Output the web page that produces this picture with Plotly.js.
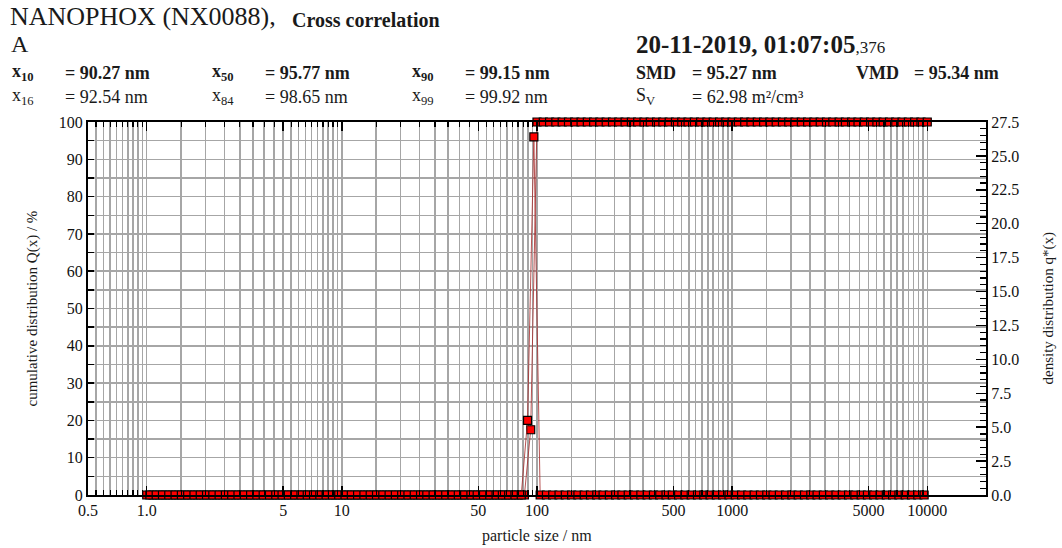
<!DOCTYPE html>
<html><head><meta charset="utf-8">
<script src="https://cdn.plot.ly/plotly-3.0.1.min.js"></script>
<style>body{margin:0;background:#fff}#chart{width:1062px;height:548px}</style>
</head><body><div id="chart"></div>
<script>
// ---- data ----
const sizeClasses = [
  1.000,1.077,1.160,1.249,1.346,1.450,1.561,1.682,1.811,1.951,2.101,2.263,2.438,2.626,2.828,3.046,3.281,3.535,3.807,4.101,4.417,4.758,5.125,5.520,5.946,6.404,6.898,7.430,8.003,8.620,9.285,
  10.00,10.77,11.60,12.49,13.46,14.50,15.61,16.82,18.11,19.51,21.01,22.63,24.38,26.26,28.28,30.46,32.81,35.35,38.07,41.01,44.17,47.58,51.25,55.20,59.46,64.04,68.98,74.30,80.03,86.20,92.85,
  100.0,107.7,116.0,124.9,134.6,145.0,156.1,168.2,181.1,195.1,210.1,226.3,243.8,262.6,282.8,304.6,328.1,353.5,380.7,410.1,441.7,475.8,512.5,552.0,594.6,640.4,689.8,743.0,800.3,862.0,928.5,
  1000,1077,1160,1249,1346,1450,1561,1682,1811,1951,2101,2263,2438,2626,2828,3046,3281,3535,3807,4101,4417,4758,5125,5520,5946,6404,6898,7430,8003,8620,9285,10000
];
const cumulativeQ = [
  0,0,0,0,0,0,0,0,0,0,
  0,0,0,0,0,0,0,0,0,0,
  0,0,0,0,0,0,0,0,0,0,
  0,0,0,0,0,0,0,0,0,0,
  0,0,0,0,0,0,0,0,0,0,
  0,0,0,0,0,0,0,0,0,0,
  0,
  17.5,
  100,100,100,100,100,100,100,100,100,100,
  100,100,100,100,100,100,100,100,100,100,
  100,100,100,100,100,100,100,100,100,100,
  100,100,100,100,100,100,100,100,100,100,
  100,100,100,100,100,100,100,100,100,100,
  100,100,100,100,100,100,100,100,100,100,
  100,100,100
];
const densityX = [
  1.038,1.118,1.204,1.297,1.397,1.505,1.621,1.746,1.880,2.025,2.181,2.349,2.530,2.725,2.935,3.162,3.406,3.668,3.951,4.256,4.584,4.937,5.318,5.728,6.170,6.645,7.158,7.710,8.304,8.944,9.636,
  10.38,11.18,12.04,12.97,13.97,15.05,16.21,17.46,18.80,20.25,21.81,23.49,25.30,27.25,29.35,31.62,34.06,36.68,39.51,42.56,45.84,49.37,53.18,57.28,61.70,66.45,71.58,77.10,83.04,89.44,96.36,
  103.8,111.8,120.4,129.7,139.7,150.5,162.1,174.6,188.0,202.5,218.1,234.9,253.0,272.5,293.5,316.2,340.6,366.8,395.1,425.6,458.4,493.7,531.8,572.8,617.0,664.5,715.8,771.0,830.4,894.4,963.6,
  1038,1118,1204,1297,1397,1505,1621,1746,1880,2025,2181,2349,2530,2725,2935,3162,3406,3668,3951,4256,4584,4937,5318,5728,6170,6645,7158,7710,8304,8944,9636
];
const densityQ = [
  0,0,0,0,0,0,0,0,0,0,
  0,0,0,0,0,0,0,0,0,0,
  0,0,0,0,0,0,0,0,0,0,
  0,0,0,0,0,0,0,0,0,0,
  0,0,0,0,0,0,0,0,0,0,
  0,0,0,0,0,0,0,0,0,0,
  5.5,26.4,
  0,0,0,0,0,0,0,0,0,0,
  0,0,0,0,0,0,0,0,0,0,
  0,0,0,0,0,0,0,0,0,0,
  0,0,0,0,0,0,0,0,0,0,
  0,0,0,0,0,0,0,0,0,0,
  0,0,0,0,0,0,0,0,0,0,
  0,0
];
const xTickVals = [0.5,1,5,10,50,100,500,1000,5000,10000];
const xTickText = ["0.5","1.0","5","10","50","100","500","1000","5000","10000"];
const yTickVals = [0,10,20,30,40,50,60,70,80,90,100];
const y2TickVals = [0,2.5,5,7.5,10,12.5,15,17.5,20,22.5,25,27.5];
const y2TickText = ["0.0","2.5","5.0","7.5","10.0","12.5","15.0","17.5","20.0","22.5","25.0","27.5"];
const statLabelsTop = ["x<sub>10</sub>","x<sub>50</sub>","x<sub>90</sub>","SMD","VMD"];
const statValuesTop = ["= 90.27 nm","= 95.77 nm","= 99.15 nm","= 95.27 nm","= 95.34 nm"];
const statLabelsBottom = ["x<sub>16</sub>","x<sub>84</sub>","x<sub>99</sub>","S<sub>V</sub>"];
const statValuesBottom = ["= 92.54 nm","= 98.65 nm","= 99.92 nm","= 62.98 m²/cm³"];

// ---- layout helpers ----
const L=88,R=986,T=122,B=495;
const px=x=>(x-L)/(R-L), py=y=>(B-y)/(B-T);
const serif='Liberation Serif, Times New Roman, serif';
function ann(text,x,y,size,opts){
  return Object.assign({text:text,xref:'paper',yref:'paper',x:px(x),y:py(y),xanchor:'left',yanchor:'middle',
    showarrow:false,font:{family:serif,size:size,color:'#1a1a1a'}},opts||{});
}
// grid line positions (axis styling)
const gridVals=[];
for(let m=0.5;m<0.999;m+=0.05) gridVals.push(Math.round(m*1000)/1000);
[1,10,100,1000].forEach(d=>{for(let m=1;m<9.99;m+=0.5) gridVals.push(Math.round(m*d*1000)/1000);});
gridVals.push(10000);

const gridC='#a6a6a6';
const mk={symbol:'square',size:8,color:'#ff0000',line:{color:'#000',width:1.2}};
const traces=[
  {x:densityX,y:densityQ,yaxis:'y2',type:'scatter',mode:'lines+markers',cliponaxis:false,
   line:{color:'rgba(165,40,40,0.8)',width:1},marker:mk,showlegend:false},
  {x:sizeClasses,y:cumulativeQ,type:'scatter',mode:'lines+markers',cliponaxis:false,
   line:{color:'rgba(165,40,40,0.8)',width:1},marker:mk,showlegend:false}
];
const tf={family:serif,size:16,color:'#111'};
const annotations=[
  ann('NANOPHOX (NX0088),',8,16,26),
  ann('<b>Cross correlation</b>',290,20,20),
  ann('A',9,44,24),
  ann('<b>20-11-2019, 01:07:05</b><span style="font-size:17px">,376</span>',634,44,25),
  ann('density distribution q*(x)',1048,(T+B)/2,15,{xanchor:'center',textangle:-90}),
  ann('cumulative distribution Q(x) / %',32,(T+B)/2,15,{xanchor:'center',textangle:-90}),
  ann('particle size / nm',(L+R)/2,536,16,{xanchor:'center'})
];
const topX=[10,210,410,634,854], valX=[63,263,463,690,912];
statLabelsTop.forEach((s,i)=>{annotations.push(ann('<b>'+s+'</b>',topX[i],73,18));annotations.push(ann('<b>'+statValuesTop[i]+'</b>',valX[i],73,18));});
statLabelsBottom.forEach((s,i)=>{annotations.push(ann(s,topX[i],97,18));annotations.push(ann(statValuesBottom[i],valX[i],97,18));});

const layout={
  width:1062,height:548,margin:{l:L,r:1062-R,t:T,b:548-B,pad:0},
  paper_bgcolor:'#fff',plot_bgcolor:'#fff',showlegend:false,
  font:{family:serif},
  xaxis:{type:'log',range:[Math.log10(0.5),Math.log10(20000)],autorange:false,
    tickmode:'array',tickvals:xTickVals,ticktext:xTickText,ticks:'inside',ticklen:9,tickwidth:1.5,tickcolor:'#000',
    showgrid:true,gridcolor:gridC,gridwidth:1.5,
    minor:{tickmode:'array',tickvals:gridVals,ticks:'inside',ticklen:5,tickwidth:1.2,tickcolor:'#000',showgrid:true,gridcolor:gridC,gridwidth:1.5},
    showline:true,linecolor:'#000',linewidth:2,mirror:'ticks',zeroline:false,tickfont:tf},
  yaxis:{range:[0,100],autorange:false,tickmode:'array',tickvals:yTickVals,ticks:'inside',ticklen:6,tickwidth:1.5,tickcolor:'#000',
    showgrid:true,gridcolor:gridC,gridwidth:1.5,
    minor:{tick0:0,dtick:5,ticks:'inside',ticklen:6,tickwidth:1.5,tickcolor:'#000',showgrid:true,gridcolor:gridC,gridwidth:1.5},
    showline:true,linecolor:'#000',linewidth:2,mirror:true,zeroline:false,tickfont:tf},
  yaxis2:{overlaying:'y',side:'right',range:[0,27.5],autorange:false,tickmode:'array',tickvals:y2TickVals,ticktext:y2TickText,
    ticks:'inside',ticklen:10,tickwidth:1.5,tickcolor:'#000',showgrid:false,
    minor:{tick0:0,dtick:0.5,ticks:'inside',ticklen:6,tickwidth:1.2,tickcolor:'#000',showgrid:false},
    showline:true,linecolor:'#000',linewidth:2,zeroline:false,tickfont:tf},
  annotations:annotations
};
Plotly.newPlot('chart',traces,layout,{staticPlot:true,displayModeBar:false});
</script></body></html>
